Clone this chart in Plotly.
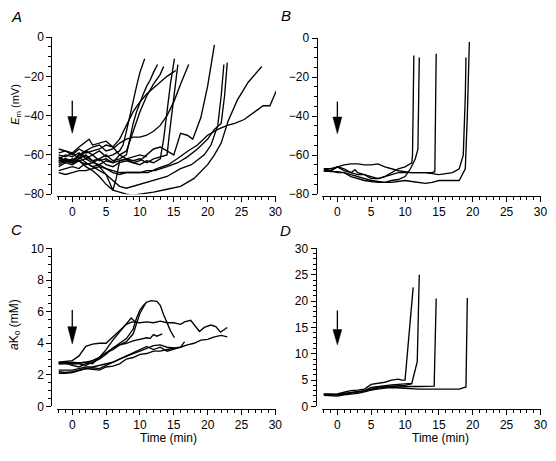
import plotly.graph_objects as go

W, H = 556, 461

# ---------------- Panel A: Em (mV) ----------------
a_time = [
    [-2, -1, 0, 1, 2, 3, 4, 5, 6, 7, 7.5, 8, 8.5, 9, 9.5, 10, 10.7],
    [-2, -1, 0, 1, 2, 3, 4, 5, 6, 7, 8, 8.5, 9, 9.5, 10, 10.5, 11, 11.5, 12, 12.6],
    [-2, -1, 0, 1, 2, 3, 4, 5, 6, 7, 8, 9, 10, 11, 12, 13, 13.5],
    [-2, -1, 0, 1, 2, 3, 4, 5, 6, 7, 8, 9, 10, 11, 12, 13, 13.5, 14, 14.5, 15.1],
    [-2, -1, 0, 1, 2, 3, 4, 5, 5.5, 6, 6.5, 7, 8, 9, 10, 11, 12, 13, 14, 14.5, 15, 15.6],
    [-2, -1, 0, 1, 2, 3, 4, 5, 6, 7, 8, 9, 10, 11, 12, 13, 14, 15.3],
    [-2, -1, 0, 1, 2, 3, 4, 5, 6, 7, 8, 9, 10, 11, 12, 13, 14, 15, 16, 17.2],
    [-2, -1, 0, 1, 2, 3, 4, 5, 6, 7, 8, 9, 10, 11, 12, 13, 14, 15, 16, 17, 17.8, 19, 20, 21],
    [-2, 0, 1, 2, 3, 4, 5, 6, 7, 8, 9, 10, 11, 12.2, 14, 15.6, 17, 18.5, 20, 21, 22, 22.5, 22.9],
    [-2, 0, 1, 2, 3, 4, 5, 6, 7, 8, 9, 10, 12, 14, 16, 17.6, 19.5, 20.5, 21.5, 22, 22.4],
    [-2, -1, 0, 1, 2, 3, 4, 5, 6, 7, 8, 9, 10, 12, 14, 16, 18, 20, 21, 22, 23, 24.4, 26, 28],
    [-2, -1, 0, 1, 2, 3, 4, 5, 6, 7, 8, 9, 10, 11.2, 12.5, 14.2, 15.5, 17.1, 18.5, 20, 21.5,
     22.9, 24, 25.4, 27, 28.2, 29.2, 30.2],
    [-2, -1, 0, 1, 2, 2.5, 3, 4, 5, 6, 7, 8, 9, 10, 11],
]
a_em = [
    [-62, -60, -61, -59, -62, -60, -58, -61, -60, -58, -55, -48, -40, -32, -25, -18, -11],
    [-64, -62, -63, -60, -61, -63, -62, -60, -63, -62, -60, -52, -44, -38, -33, -29, -25, -22, -18, -14],
    [-60, -61, -59, -62, -58, -60, -63, -62, -64, -60, -58, -48, -38, -30, -24, -19, -15],
    [-63, -64, -62, -63, -65, -64, -62, -65, -66, -64, -63, -64, -65, -63, -64, -62, -52, -38, -24, -11],
    [-61, -63, -64, -62, -60, -63, -66, -70, -74, -78, -72, -63, -62, -63, -62, -64, -62, -61, -60, -45, -30, -14],
    [-59, -58, -60, -57, -59, -58, -57, -55, -56, -52, -45, -38, -33, -29, -26, -23, -20, -17],
    [-65, -63, -64, -60, -58, -56, -55, -58, -57, -54, -52, -51, -51, -50, -48, -45, -40, -33, -24, -14],
    [-66, -64, -65, -63, -62, -64, -65, -63, -64, -63, -62, -64, -63, -60, -57, -56, -58, -60, -49, -50,
     -52, -41, -25, -4],
    [-62, -63, -61, -64, -66, -65, -67, -69, -70, -69, -69, -69, -68, -68, -66, -64, -61, -57, -52, -47,
     -44, -30, -13],
    [-68, -66, -67, -64, -66, -68, -70, -73, -76, -77, -76, -75, -73, -71, -67, -65, -60, -55, -45, -30, -14],
    [-63, -62, -64, -63, -66, -68, -71, -75, -78, -79, -80, -80.5, -80, -79, -77.5, -76, -72, -65, -60,
     -54, -43, -32, -23, -15],
    [-69, -70, -69, -68, -68, -67, -66, -67, -68, -69, -69, -69, -69, -69, -67, -65, -62, -58, -55, -50,
     -47, -45, -44, -42, -38, -35, -35, -27],
    [-57, -58, -59, -56, -53, -52, -55, -54, -53, -56, -60, -62, -61, -60, -61],
]

# ---------------- Panel B: Em (mV) ----------------
b_time = [
    [-2, -1, 0, 1, 2, 3, 4, 5, 6, 7, 8, 9, 10, 11, 12, 13, 14, 15, 16, 17, 18, 18.6, 18.9, 19.0],
    [-2, -1, 0, 1, 2, 3, 4, 5, 6, 7, 8, 9, 10, 11, 11.1, 11.3],
    [-2, -1, 0, 1, 2, 3, 4, 5, 6, 7, 8, 9, 10, 10.8, 11.5, 11.9, 12.1],
    [-2, -1, 0, 1, 2, 2.6, 3, 4, 5, 6, 7, 8, 9, 10, 11, 12, 13, 14, 14.4, 14.6],
    [-2, -1, 0, 1, 2, 3, 4, 5, 6, 7, 8, 9, 10, 11, 12, 13, 14, 15, 16, 17, 18, 18.9, 19.2, 19.5],
]
b_em = [
    [-67, -67, -66, -65, -64.5, -64.5, -65, -65, -64.5, -66, -67, -68, -68.5, -69, -69, -69, -69.5,
     -70, -69.5, -69, -67, -60, -30, -10],
    [-68, -68, -66, -68, -69, -70, -70, -71, -72, -71, -69, -67, -66, -64, -60, -9],
    [-68, -68, -69, -69, -71, -72, -73, -73.5, -74, -74, -73, -72.5, -71, -67, -62, -57, -10],
    [-67, -68, -66, -67, -69, -67.5, -69, -70, -72, -72, -71, -70, -69, -69, -69, -69, -69, -69, -68.5, -8],
    [-68, -68.5, -68.5, -69, -70, -71, -72, -73, -73.5, -74, -74, -73.5, -73, -73.5, -74, -74.5, -74,
     -73, -73, -73, -73, -67, -40, -2],
]

# ---------------- Panel C: aKo (mM) ----------------
c_time = [
    [-2, -1, 0, 1, 2, 3, 4, 5, 6, 7, 8, 8.8, 10, 11, 12, 13, 14, 15, 16, 16.6, 17.5, 18.8, 19.5,
     20.5, 21.2, 21.9, 22.9],
    [-2, -1, 0, 1, 2, 3, 4, 5, 6, 7, 8, 9, 9.5, 10, 10.5, 11, 11.7, 12.5, 13, 13.5, 14, 14.5, 15.1],
    [-2, -1, 0, 1, 2, 3, 4, 5, 6, 7, 8, 9, 9.5, 10, 10.8],
    [-2, -1, 0, 1, 2, 3, 4, 5, 6, 7, 8, 8.7, 9.2, 9.6],
    [-2, -1, 0, 1, 2, 3, 4, 5, 6, 7, 8, 9, 10, 11, 11.5, 12, 12.5, 13.3],
    [-2, -1, 0, 1, 2, 3, 4, 5, 6, 7, 8, 9, 10, 11, 12, 13, 14, 15, 16, 17, 18, 19, 20, 21, 22, 22.9],
    [-2, -1, 0, 1, 2, 3, 4, 5, 6, 7, 8, 9, 10, 11, 12, 13, 14, 15, 16, 16.6],
    [-2, -1, 0, 1, 2, 3, 4, 5, 6, 7, 8, 9, 10, 11, 12, 13, 14, 15],
]
c_ako = [
    [2.8, 2.85, 2.9, 3.2, 3.8, 3.95, 4.0, 4.0, 4.4, 4.8, 5.2, 5.35, 5.3, 5.35, 5.3, 5.4, 5.3, 5.3,
     5.2, 5.35, 5.45, 4.75, 5.0, 5.15, 5.05, 4.7, 5.0],
    [2.75, 2.8, 2.7, 2.7, 2.6, 2.8, 3.0, 3.3, 3.7, 4.0, 4.3, 4.9, 5.6, 6.1, 6.4, 6.6, 6.7, 6.65,
     6.4, 5.8, 5.3, 4.8, 4.35],
    [2.7, 2.75, 2.6, 2.5, 2.7, 2.9, 3.1, 3.4, 3.6, 3.9, 4.1, 4.6, 5.3, 5.9, 6.5],
    [2.8, 2.75, 2.8, 2.75, 2.8, 2.7, 3.1, 3.6, 4.2, 4.7, 5.2, 5.6, 5.4, 5.3],
    [2.7, 2.7, 2.7, 2.75, 2.8, 2.9, 3.1, 3.4, 3.7, 3.9, 4.0, 4.15, 4.25, 4.35, 4.3, 4.55, 4.45, 4.6],
    [2.3, 2.3, 2.3, 2.4, 2.5, 2.5, 2.6, 2.7, 2.8, 3.0, 3.2, 3.35, 3.5, 3.7, 3.85, 3.9, 3.75, 3.7,
     3.75, 3.9, 4.0, 4.2, 4.25, 4.4, 4.5, 4.4],
    [2.2, 2.15, 2.2, 2.3, 2.4, 2.45, 2.4, 2.6, 2.8, 3.0, 3.15, 3.4, 3.6, 3.8, 3.6, 3.75, 3.5, 3.65, 3.75, 4.1],
    [2.1, 2.1, 2.15, 2.3, 2.4, 2.35, 2.3, 2.5, 2.55, 2.7, 3.0, 3.1, 3.3, 3.35, 3.5, 3.5, 3.6, 3.7],
]

# ---------------- Panel D: aKo (mM) ----------------
d_time = [
    [-2, -1, 0, 1, 2, 3, 4, 5, 6, 7, 8, 9, 9.5, 10, 11.2],
    [-2, -1, 0, 1, 2, 3, 4, 5, 6, 7, 8, 9, 10, 11, 11.8, 12.1],
    [-2, -1, 0, 1, 2, 3, 4, 5, 6, 7, 8, 9, 10, 11, 12, 13, 14.3, 14.6],
    [-2, -1, 0, 1, 2, 3, 4, 5, 6, 7, 8, 9, 10, 12, 14, 16, 18, 19, 19.2],
    [-2, -1, 0, 1, 2, 3, 4, 5, 6, 7, 8, 9, 10, 11],
]
d_ako = [
    [2.3, 2.3, 2.4, 2.7, 3.0, 3.1, 3.3, 4.2, 4.4, 4.6, 5.0, 5.2, 5.0, 5.0, 22.6],
    [2.3, 2.3, 2.3, 2.5, 2.7, 2.9, 3.0, 3.6, 3.8, 3.9, 4.1, 4.2, 4.3, 4.4, 8.5, 25.0],
    [2.1, 2.1, 2.0, 2.2, 2.3, 2.5, 2.8, 3.2, 3.5, 3.6, 3.8, 3.7, 3.8, 3.8, 3.8, 3.8, 3.85, 20.5],
    [2.4, 2.3, 2.2, 2.4, 2.6, 2.8, 3.0, 3.2, 3.4, 3.5, 3.6, 3.5, 3.4, 3.3, 3.3, 3.3, 3.3, 3.7, 20.6],
    [2.2, 2.2, 2.2, 2.3, 2.6, 2.8, 2.9, 3.3, 3.7, 3.8, 3.9, 3.9, 4.0, 4.3],
]

# drug application arrows: (x, shaft top, head base, tip, half width in x units)
arrow_a = (0, -32.5, -40.5, -49, 0.66)
arrow_b = (0, -32.5, -40.5, -49, 0.66)
arrow_c = (0, 6.1, 5.05, 3.95, 0.66)
arrow_d = (0, 18.2, 14.6, 11.7, 0.66)

x_ticks = [0, 5, 10, 15, 20, 25, 30]
x_range = [-2.2, 30.1]

FONT = "Liberation Sans, Arial, Helvetica, sans-serif"


def px(v):
    return v / W


def py(v):
    return (H - v) / H


fig = go.Figure()

panels = [
    ("x", "y", a_time, a_em),
    ("x2", "y2", b_time, b_em),
    ("x3", "y3", c_time, c_ako),
    ("x4", "y4", d_time, d_ako),
]
for xa, ya, ts, vs in panels:
    for t, v in zip(ts, vs):
        fig.add_trace(go.Scatter(x=t, y=v, mode="lines", xaxis=xa, yaxis=ya,
                                 line=dict(color="black", width=1.35), showlegend=False,
                                 hoverinfo="skip", cliponaxis=False))

common_x = dict(range=x_range, tickvals=x_ticks, ticks="outside", ticklen=5, tickwidth=1,
                tickcolor="black", showline=True, linecolor="black", linewidth=1,
                showgrid=False, zeroline=False, anchor="free", ticklabeloverflow="allow",
                minor=dict(dtick=1, tick0=0, ticks="outside", ticklen=3, tickcolor="black",
                           showgrid=False),
                tickfont=dict(family=FONT, size=12, color="black"))
common_y = dict(ticks="outside", ticklen=5, tickwidth=1, tickcolor="black", showline=True,
                linecolor="black", linewidth=1, showgrid=False, zeroline=False, anchor="free",
                ticklabeloverflow="allow",
                tickfont=dict(family=FONT, size=12, color="black"))

# left column x: 58..279 px ; right column x: 326..547 px
fig.update_layout(
    width=W, height=H, margin=dict(l=0, r=0, t=0, b=0),
    paper_bgcolor="white", plot_bgcolor="white", showlegend=False,
    xaxis=dict(domain=[px(58), px(279)], position=py(195), **common_x),
    xaxis2=dict(domain=[px(326), px(547)], position=py(195), **common_x),
    xaxis3=dict(domain=[px(58), px(279)], position=py(414.5), **common_x),
    xaxis4=dict(domain=[px(326), px(547)], position=py(414.5), **common_x),
    yaxis=dict(domain=[py(193), py(31)], range=[-80, 0], dtick=20, position=px(52),
               minor=dict(dtick=5, ticks="outside", ticklen=3, tickcolor="black"), **common_y),
    yaxis2=dict(domain=[py(193), py(32)], range=[-80, 0], dtick=20, position=px(320),
                minor=dict(dtick=5, ticks="outside", ticklen=3, tickcolor="black"), **common_y),
    yaxis3=dict(domain=[py(412), py(249)], range=[0, 10], dtick=2, position=px(52),
                minor=dict(dtick=0.5, ticks="outside", ticklen=3, tickcolor="black"), **common_y),
    yaxis4=dict(domain=[py(412), py(249)], range=[0, 30], dtick=5, position=px(319),
                minor=dict(dtick=1, ticks="outside", ticklen=3, tickcolor="black"), **common_y),
)

# arrows
for (xa, ya), (ax, top, base, tip, hw) in zip(
        [("x", "y"), ("x2", "y2"), ("x3", "y3"), ("x4", "y4")],
        [arrow_a, arrow_b, arrow_c, arrow_d]):
    fig.add_shape(type="line", xref=xa, yref=ya, x0=ax, x1=ax, y0=top, y1=base,
                  line=dict(color="black", width=1.3))
    fig.add_shape(type="path", xref=xa, yref=ya,
                  path=f"M {ax - hw},{base} L {ax + hw},{base} L {ax},{tip} Z",
                  fillcolor="black", line=dict(color="black", width=0.5))

# panel letters
for letter, x0, y0 in [("A", 17, 10), ("B", 289, 9), ("C", 17, 229), ("D", 289, 230)]:
    fig.add_annotation(text=f"<i>{letter}</i>", xref="paper", yref="paper", x=px(x0), y=py(y0),
                       showarrow=False, xanchor="center", yanchor="middle",
                       font=dict(family=FONT, size=15, color="black"))

# axis titles
fig.add_annotation(text="<i>E</i><sub>m</sub> (mV)", xref="paper", yref="paper",
                   x=px(16), y=py(100), textangle=-90, showarrow=False,
                   xanchor="center", yanchor="middle",
                   font=dict(family=FONT, size=11, color="black"))
fig.add_annotation(text="<i>a</i>K<sub>o</sub> (mM)", xref="paper", yref="paper",
                   x=px(15), y=py(327), textangle=-90, showarrow=False,
                   xanchor="center", yanchor="middle",
                   font=dict(family=FONT, size=12, color="black"))
for xc in [170, 445]:
    fig.add_annotation(text="Time (min)", xref="paper", yref="paper",
                       x=px(xc), y=py(444), showarrow=False,
                       xanchor="center", yanchor="middle",
                       font=dict(family=FONT, size=12, color="black"))

fig.write_html("out.html", config={"displayModeBar": False},
               post_script="document.body.style.margin='0';document.body.style.overflow='hidden';")
